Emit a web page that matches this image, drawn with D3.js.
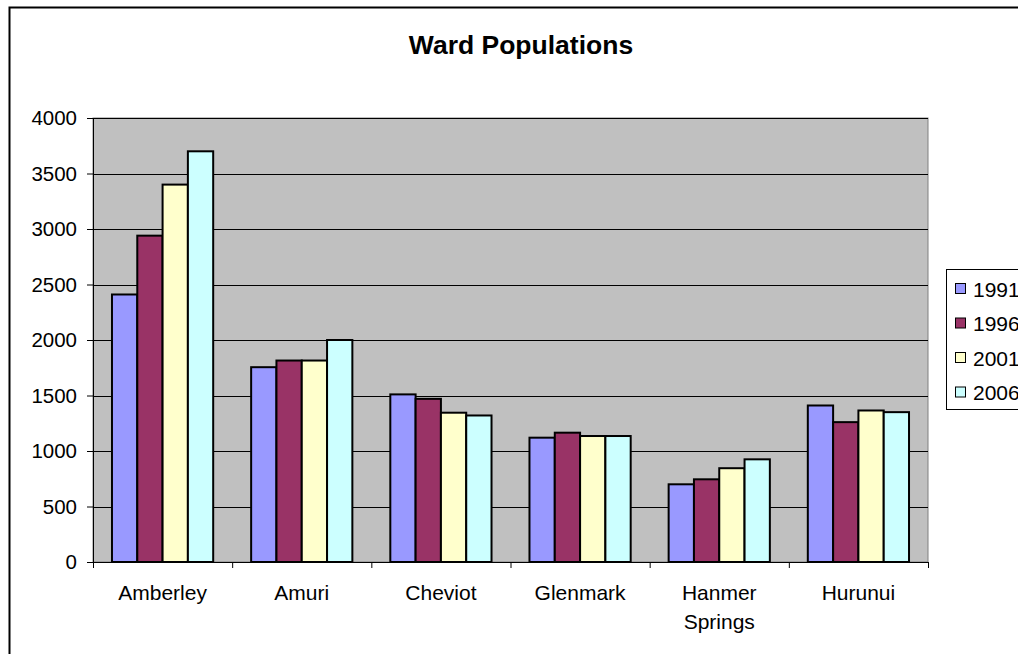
<!DOCTYPE html>
<html>
<head>
<meta charset="utf-8">
<script src="https://cdnjs.cloudflare.com/ajax/libs/d3/7.8.5/d3.min.js"></script>
<style>
  body { margin: 0; background: #fff; }
  svg { display: block; font-family: "Liberation Sans", Arial, sans-serif; }
</style>
</head>
<body>
<div id="chart"></div>
<script>
// data
var wards = ["Amberley", "Amuri", "Cheviot", "Glenmark", "Hanmer Springs", "Hurunui"]
var years = ["1991", "1996", "2001", "2006"]
var pop1991 = [2410, 1755, 1510, 1120, 700, 1410]
var pop1996 = [2940, 1815, 1470, 1165, 745, 1260]
var pop2001 = [3400, 1815, 1345, 1135, 845, 1365]
var pop2006 = [3700, 2000, 1320, 1135, 925, 1350]
var yTicks = [0, 500, 1000, 1500, 2000, 2500, 3000, 3500, 4000]
var colours = ["#9999FF", "#993366", "#FFFFCC", "#CCFFFF"]

var series = [pop1991, pop1996, pop2001, pop2006]

var width = 1018, height = 654
var plot = {left: 93, top: 118, right: 928, bottom: 562}

var svg = d3.select("#chart").append("svg")
            .attr("width", width)
            .attr("height", height)

// chart area border (cropped on right and bottom like the picture)
svg.append("rect")
   .attr("x", 9.5).attr("y", 7.5)
   .attr("width", 1100).attr("height", 800)
   .style("fill", "white")
   .style("stroke", "black")
   .style("stroke-width", 2)

svg.append("text").text("Ward Populations")
   .attr("x", 521).attr("y", 54)
   .attr("text-anchor", "middle")
   .style("font-weight", "bold")
   .style("font-size", "26.5px")

var x0 = d3.scaleBand().domain(wards).range([plot.left, plot.right]).paddingInner(0).paddingOuter(0)
var gap = x0.bandwidth() * 1.5 / 5.5
var x1 = d3.scaleBand().domain(years).range([gap / 2, x0.bandwidth() - gap / 2])
var y = d3.scaleLinear().domain([0, 4000]).range([plot.bottom, plot.top])

// plot background
svg.append("rect")
   .attr("x", plot.left).attr("y", plot.top)
   .attr("width", plot.right - plot.left).attr("height", plot.bottom - plot.top)
   .style("fill", "#C0C0C0")
   .style("stroke", "#808080")
   .style("stroke-width", 1)

// gridlines
svg.append("g").selectAll("line").data(yTicks.filter(d => d > 0))
   .enter().append("line")
   .attr("x1", plot.left).attr("x2", plot.right)
   .attr("y1", d => Math.round(y(d)) + 0.5).attr("y2", d => Math.round(y(d)) + 0.5)
   .style("stroke", "#000")
   .style("stroke-width", 1)

// bars
var groups = svg.append("g").selectAll("g").data(wards)
   .enter().append("g")
   .attr("transform", d => `translate(${x0(d)},0)`)

groups.selectAll("rect")
   .data((d, i) => years.map((yr, j) => ({year: yr, value: series[j][i], c: colours[j]})))
   .enter().append("rect")
   .attr("x", d => x1(d.year))
   .attr("y", d => y(d.value))
   .attr("width", x1.bandwidth())
   .attr("height", d => y(0) - y(d.value))
   .style("fill", d => d.c)
   .style("stroke", "#000")
   .style("stroke-width", 2)

// y axis
var yAxis = d3.axisLeft(y).tickValues(yTicks).tickSize(6).tickPadding(10).tickFormat(d3.format("d"))
var gy = svg.append("g")
   .attr("transform", `translate(${plot.left},0)`)
   .call(yAxis)
gy.select(".domain").style("stroke", "#000")
gy.selectAll("line").style("stroke", "#000")
gy.selectAll("text").style("font-size", "20.5px").style("fill", "#000")
   .attr("font-family", null)

// x axis, ticks at category boundaries
var gx = svg.append("g")
   .attr("transform", `translate(0,${plot.bottom})`)
gx.append("line")
   .attr("x1", plot.left).attr("x2", plot.right)
   .attr("y1", 0.5).attr("y2", 0.5)
   .style("stroke", "#000")
gx.selectAll(".tick").data(wards.map(d => x0(d)).concat([plot.right]))
   .enter().append("line")
   .attr("x1", d => d + 0.5).attr("x2", d => d + 0.5)
   .attr("y1", 0).attr("y2", 6)
   .style("stroke", "#000")

gx.selectAll("text").data(wards)
   .enter().append("text")
   .attr("text-anchor", "middle")
   .attr("x", d => x0(d) + x0.bandwidth() / 2)
   .style("font-size", "21px")
   .each(function(d) {
      var words = d.split(" ")
      var t = d3.select(this)
      words.forEach(function(w, k) {
        t.append("tspan").text(w)
         .attr("x", x0(d) + x0.bandwidth() / 2)
         .attr("y", 38 + k * 29)
      })
   })

// legend
var legend = svg.append("g")
svg.append("rect")
   .attr("x", 946.5).attr("y", 269.5)
   .attr("width", 120).attr("height", 140)
   .style("fill", "white")
   .style("stroke", "#000")
   .style("stroke-width", 1)

var items = legend.selectAll("g").data(years)
   .enter().append("g")
   .attr("transform", (d, i) => `translate(955,${289 + i * 34.5})`)
legend.raise()
items.append("rect")
   .attr("x", 0.5).attr("y", -5.5)
   .attr("width", 10).attr("height", 10)
   .style("fill", (d, i) => colours[i])
   .style("stroke", "#000")
   .style("stroke-width", 1)
items.append("text").text(d => d)
   .attr("x", 18).attr("y", 7.5)
   .style("font-size", "21px")
</script>
</body>
</html>
